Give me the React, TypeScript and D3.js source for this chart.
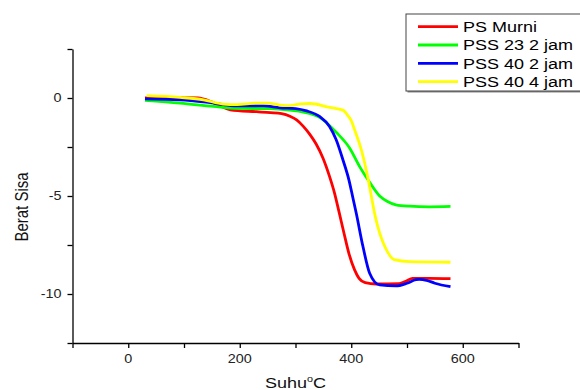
import React, { useEffect, useRef } from "react";
import * as d3 from "d3";

type Pt = [number, number];

const seriesNames = ["PS Murni", "PSS 23 2 jam", "PSS 40 2 jam", "PSS 40 4 jam"];
const seriesColors = ["#ff0000", "#00ff00", "#0000ff", "#ffff00"];

const psMurni: Pt[] = [
  [30, 0], [60, 0.02], [100, 0.02], [125, 0], [147, -0.17], [165, -0.4], [183, -0.6],
  [230, -0.7], [255, -0.75], [275, -0.8], [290, -0.93], [302, -1.12], [314, -1.45],
  [326, -1.87], [337, -2.35], [349, -3.05], [361, -4.0], [370, -4.85], [378, -5.8],
  [387, -6.9], [396, -7.95], [406, -8.77], [414, -9.2], [425, -9.42], [445, -9.49],
  [486, -9.47], [498, -9.35], [510, -9.2], [540, -9.2], [578, -9.22],
];
const pss23_2: Pt[] = [
  [30, -0.12], [93, -0.26], [153, -0.43], [195, -0.53], [254, -0.54], [290, -0.62],
  [314, -0.72], [344, -1.0], [373, -1.75], [397, -2.55], [415, -3.5], [433, -4.3],
  [451, -5.0], [465, -5.28], [480, -5.45], [504, -5.52], [540, -5.55], [578, -5.53],
];
const pss40_2: Pt[] = [
  [30, -0.04], [93, -0.09], [153, -0.26], [195, -0.4], [242, -0.4], [272, -0.5],
  [300, -0.54], [320, -0.66], [343, -0.94], [361, -1.45], [373, -2.13], [385, -3.15],
  [396, -4.2], [403, -5.1], [409, -5.88], [421, -7.58], [433, -8.94], [451, -9.54],
  [480, -9.59], [500, -9.45], [516, -9.27], [522, -9.25], [535, -9.3], [550, -9.45],
  [578, -9.63],
];
const pss40_4: Pt[] = [
  [33, 0.12], [93, 0.03], [135, -0.09], [170, -0.31], [195, -0.34], [230, -0.26],
  [250, -0.26], [272, -0.36], [290, -0.39], [310, -0.3], [326, -0.28], [361, -0.48],
  [385, -0.62], [394, -0.9], [400, -1.15], [406, -1.62], [418, -2.64], [430, -4.1],
  [436, -5.0], [442, -5.9], [448, -6.6], [456, -7.3], [465, -7.85], [477, -8.25],
  [504, -8.35], [578, -8.38],
];
const allSeries = [psMurni, pss23_2, pss40_2, pss40_4];

const xTicks = [-100, 0, 100, 200, 300, 400, 500, 600, 700];
const xLabels = [0, 200, 400, 600];
const yTicks = [-12.5, -10, -7.5, -5, -2.5, 0, 2.5];
const yLabels = [-10, -5, 0];

const FONT = "Arial, 'Liberation Sans', sans-serif";
const STRETCH = 1.2;

export default function App() {
  const svgRef = useRef<SVGSVGElement>(null);

  useEffect(() => {
    if (!svgRef.current) return;
    const svg = d3.select(svgRef.current);
    svg.selectAll("*").remove();

    const width = 580;
    const height = 390;

    const x = d3.scaleLinear().domain([-100, 700]).range([72.5, 518.5]);
    const y = d3.scaleLinear().domain([-12.5, 2.5]).range([343, 49]);

    svg.append("rect").attr("width", width).attr("height", height).attr("fill", "#fff");

    // curves
    const line = d3
      .line<Pt>()
      .x((d) => x(d[0]))
      .y((d) => y(d[1]))
      .curve(d3.curveMonotoneX);

    allSeries.forEach((s, i) => {
      svg
        .append("path")
        .datum(s)
        .attr("fill", "none")
        .attr("stroke", seriesColors[i])
        .attr("stroke-width", 2.8)
        .attr("stroke-linejoin", "round")
        .attr("d", line);
    });

    // axes
    const xAxis = svg
      .append("g")
      .attr("transform", `translate(0,${y(-12.5)})`)
      .call(d3.axisBottom(x).tickValues(xTicks).tickSize(5).tickSizeOuter(0).tickFormat(() => ""));
    const yAxis = svg
      .append("g")
      .attr("transform", `translate(${x(-100)},0)`)
      .call(d3.axisLeft(y).tickValues(yTicks).tickSize(5).tickSizeOuter(0).tickFormat(() => ""));
    [xAxis, yAxis].forEach((a) => {
      a.selectAll("path,line").attr("stroke", "#000").attr("stroke-width", 1.3);
    });

    xLabels.forEach((v) => {
      svg
        .append("text")
        .attr("transform", `translate(${x(v)},362.5) scale(${STRETCH},1)`)
        .attr("text-anchor", "middle")
        .style("font-family", FONT)
        .style("font-size", "12px")
        .attr("fill", "#222")
        .text(v);
    });
    yLabels.forEach((v) => {
      svg
        .append("text")
        .attr("transform", `translate(${x(-100) - 11},${y(v) + 4.3}) scale(${STRETCH},1)`)
        .attr("text-anchor", "end")
        .style("font-family", FONT)
        .style("font-size", "12px")
        .attr("fill", "#222")
        .text(v);
    });

    // axis titles
    const xt = svg
      .append("text")
      .attr("transform", `translate(${(x(-100) + x(700)) / 2},387.5) scale(${STRETCH},1)`)
      .attr("text-anchor", "middle")
      .style("font-family", FONT)
      .style("font-size", "15px")
      .attr("fill", "#111");
    xt.append("tspan").text("Suhu");
    xt.append("tspan").attr("dy", -6).style("font-size", "9px").text("o");
    xt.append("tspan").attr("dy", 6).text("C");

    svg
      .append("text")
      .attr("transform", `translate(27.5,207) rotate(-90) scale(1,${STRETCH})`)
      .attr("text-anchor", "middle")
      .style("font-family", FONT)
      .style("font-size", "15px")
      .attr("fill", "#111")
      .text("Berat Sisa");

    // legend
    const lg = svg.append("g");
    lg.append("rect")
      .attr("x", 407.5)
      .attr("y", 15.5)
      .attr("width", 190)
      .attr("height", 77)
      .attr("fill", "#888");
    lg.append("rect")
      .attr("x", 406)
      .attr("y", 14)
      .attr("width", 190)
      .attr("height", 77)
      .attr("fill", "#fff")
      .attr("stroke", "#444")
      .attr("stroke-width", 1);

    seriesNames.forEach((name, i) => {
      const cy = 26.7 + i * 18.3;
      lg.append("line")
        .attr("x1", 418)
        .attr("x2", 458)
        .attr("y1", cy)
        .attr("y2", cy)
        .attr("stroke", seriesColors[i])
        .attr("stroke-width", 2.8);
      lg.append("text")
        .attr("transform", `translate(463,${cy + 5.2}) scale(${STRETCH},1)`)
        .style("font-family", FONT)
        .style("font-size", "15px")
        .attr("fill", "#000")
        .text(name);
    });
  }, []);

  return (
    <svg
      ref={svgRef}
      width={580}
      height={390}
      style={{ position: "absolute", left: 0, top: 0, display: "block" }}
    />
  );
}
